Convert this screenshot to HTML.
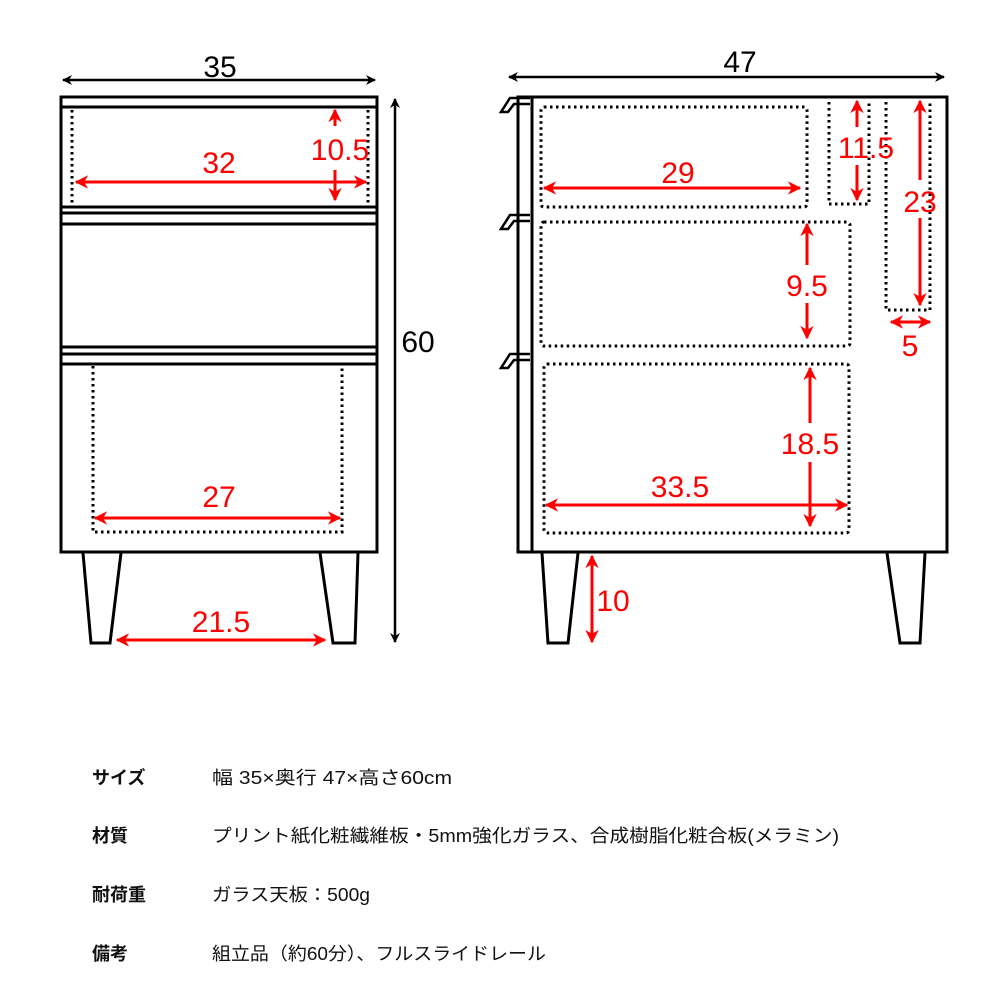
<!DOCTYPE html>
<html><head><meta charset="utf-8"><style>
html,body{margin:0;padding:0;background:#fff;width:1000px;height:1000px;overflow:hidden}
svg{display:block}
.t{font-family:"Liberation Sans","Noto Sans CJK JP",sans-serif;}
</style></head><body>
<svg width="1000" height="1000" viewBox="0 0 1000 1000" xmlns="http://www.w3.org/2000/svg">
<defs>
<marker id="ar" viewBox="0 0 10 10" refX="9" refY="5" markerWidth="4.5" markerHeight="4.5" orient="auto-start-reverse"><path d="M0,0 L10,5 L0,10 L3,5 z" fill="#f00"/></marker>
<marker id="ab" viewBox="0 0 10 10" refX="9" refY="5" markerWidth="4" markerHeight="4" orient="auto-start-reverse"><path d="M0,0 L10,5 L0,10 L3,5 z" fill="#000"/></marker>
</defs>
<g fill="none" stroke="#000" stroke-width="3">
<rect x="61" y="97" width="316" height="455"/>
<line x1="61" y1="107" x2="377" y2="107"/>
<line x1="61" y1="207" x2="377" y2="207"/>
<line x1="61" y1="213" x2="377" y2="213"/>
<line x1="61" y1="224" x2="377" y2="224"/>
<line x1="61" y1="347" x2="377" y2="347"/>
<line x1="61" y1="354" x2="377" y2="354"/>
<line x1="61" y1="364" x2="377" y2="364"/>
<path d="M83 553 L91 643 L110 643 L121 553"/>
<path d="M320 553 L333 643 L355 643 L358 553"/>
<path d="M518 97 L947 97 L947 552 L518 552 Z"/>
<line x1="532" y1="97" x2="532" y2="552"/>
<path d="M530 98 L510 98 L501 112 L508 112 L514 104 L530 104" stroke-width="2.5"/>
<path d="M530 215 L510 215 L501 229 L508 229 L514 221 L530 221" stroke-width="2.5"/>
<path d="M530 354 L510 354 L501 368 L508 368 L514 360 L530 360" stroke-width="2.5"/>
<path d="M542 553 L548 643 L568 643 L578 553"/>
<path d="M887 553 L900 643 L920 643 L925 553"/>
</g>
<g fill="none" stroke="#000" stroke-width="3" stroke-dasharray="2.5 3.5">
<line x1="72" y1="110" x2="72" y2="205"/>
<line x1="368" y1="110" x2="368" y2="205"/>
<path d="M93 366 L93 532 L342 532 L342 366"/>
<rect x="541" y="107" width="266" height="100" rx="3"/>
<rect x="541" y="222" width="309" height="124" rx="3"/>
<rect x="544" y="364" width="305" height="169" rx="3"/>
<path d="M829 102 L829 204 L869 204 L869 102"/>
<path d="M886 102 L886 310 L930 310 L930 102"/>
</g>
<g stroke="#000" stroke-width="2.5" fill="none">
<line x1="63" y1="80" x2="375" y2="80" marker-start="url(#ab)" marker-end="url(#ab)"/>
<line x1="509" y1="77" x2="944" y2="77" marker-start="url(#ab)" marker-end="url(#ab)"/>
<line x1="395" y1="99" x2="395" y2="642" marker-start="url(#ab)" marker-end="url(#ab)"/>
</g>
<g stroke="#f00" stroke-width="3" fill="none">
<line x1="76" y1="182" x2="366" y2="182" marker-start="url(#ar)" marker-end="url(#ar)"/>
<line x1="335" y1="110" x2="335" y2="126" marker-start="url(#ar)"/>
<line x1="335" y1="170" x2="335" y2="200" marker-end="url(#ar)"/>
<line x1="95" y1="518" x2="340" y2="518" marker-start="url(#ar)" marker-end="url(#ar)"/>
<line x1="117" y1="640" x2="325" y2="640" marker-start="url(#ar)" marker-end="url(#ar)"/>
<line x1="544" y1="188" x2="800" y2="188" marker-start="url(#ar)" marker-end="url(#ar)"/>
<line x1="857" y1="101" x2="857" y2="127" marker-start="url(#ar)"/>
<line x1="857" y1="165" x2="857" y2="200" marker-end="url(#ar)"/>
<line x1="920" y1="101" x2="920" y2="180" marker-start="url(#ar)"/>
<line x1="920" y1="218" x2="920" y2="305" marker-end="url(#ar)"/>
<line x1="891" y1="322" x2="930" y2="322" marker-start="url(#ar)" marker-end="url(#ar)"/>
<line x1="807" y1="224" x2="807" y2="265" marker-start="url(#ar)"/>
<line x1="807" y1="303" x2="807" y2="338" marker-end="url(#ar)"/>
<line x1="810" y1="368" x2="810" y2="423" marker-start="url(#ar)"/>
<line x1="810" y1="462" x2="810" y2="526" marker-end="url(#ar)"/>
<line x1="546" y1="505" x2="847" y2="505" marker-start="url(#ar)" marker-end="url(#ar)"/>
<line x1="592" y1="556" x2="592" y2="642" marker-start="url(#ar)" marker-end="url(#ar)"/>
</g>
<g class="t" font-size="30" text-anchor="middle">
<text x="220" y="77" fill="#000">35</text>
<text x="740" y="72" fill="#000">47</text>
<text x="418" y="352" fill="#000">60</text>
<g fill="#f00">
<text x="219" y="173">32</text>
<text x="340" y="160">10.5</text>
<text x="219" y="507">27</text>
<text x="221" y="632">21.5</text>
<text x="678" y="183">29</text>
<text x="866" y="158">11.5</text>
<text x="920" y="212">23</text>
<text x="910" y="356">5</text>
<text x="807" y="296">9.5</text>
<text x="810" y="454">18.5</text>
<text x="680" y="497">33.5</text>
<text x="613" y="611">10</text>
</g>
</g>
<g class="t" font-size="18" fill="#111">
<text x="92" y="784" font-weight="bold">サイズ</text>
<text x="92" y="842" font-weight="bold">材質</text>
<text x="92" y="901" font-weight="bold">耐荷重</text>
<text x="92" y="960" font-weight="bold">備考</text>
<text x="212" y="784" textLength="240" lengthAdjust="spacingAndGlyphs">幅 35×奥行 47×高さ60cm</text>
<text x="212" y="842" textLength="627" lengthAdjust="spacingAndGlyphs">プリント紙化粧繊維板・5mm強化ガラス、合成樹脂化粧合板(メラミン)</text>
<text x="212" y="901" textLength="158" lengthAdjust="spacingAndGlyphs">ガラス天板：500g</text>
<text x="212" y="960" textLength="334" lengthAdjust="spacingAndGlyphs">組立品（約60分）、フルスライドレール</text>
</g>
</svg>
</body></html>
